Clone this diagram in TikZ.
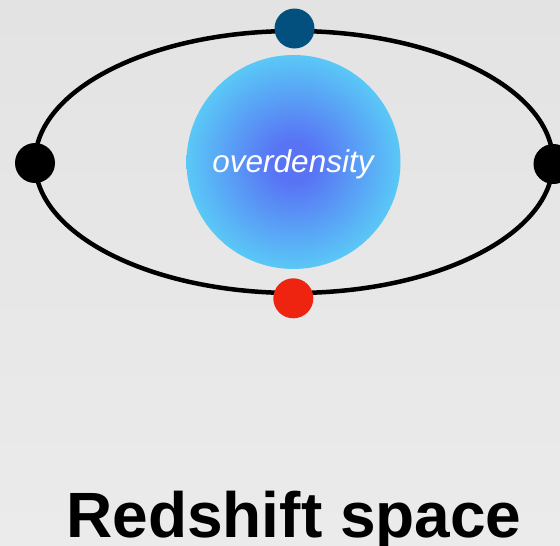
\documentclass[tikz,border=0pt]{standalone}
\usepackage{fontspec}
\setmainfont{Liberation Sans}
\usetikzlibrary{shapes.geometric}
\definecolor{bgtop}{HTML}{E3E3E3}
\definecolor{bgbot}{HTML}{EBEBEB}
\definecolor{dotblue}{HTML}{03507F}
\definecolor{dotred}{HTML}{EE2310}
\definecolor{blobin}{HTML}{5874F5}
\definecolor{blobout}{HTML}{5AC8F6}
\pgfdeclareradialshading{blob}{\pgfpoint{0bp}{0bp}}{color(0bp)=(blobin); color(5bp)=(blobin); color(25bp)=(blobout); color(50bp)=(blobout)}
\tikzset{
  dot/.style={circle, inner sep=0pt, minimum size=40pt},
  orbitstyle/.style={ellipse, draw=black, line width=4.5pt, inner sep=0pt, minimum width=518pt, minimum height=262pt},
  blobstyle/.style={circle, inner sep=0pt, minimum size=214pt, shading=blob},
  labelstyle/.style={anchor=base, inner sep=0pt, text=white, font=\itshape\fontsize{31.5pt}{34pt}\selectfont},
  titlestyle/.style={font=\bfseries\fontsize{64pt}{70pt}\selectfont, text=black, anchor=base, inner sep=0pt}
}
\begin{document}
\begin{tikzpicture}[x=1pt,y=-1pt]
  \useasboundingbox (0,0) rectangle (560,546);
  \clip (0,0) rectangle (560,546);
  \shade[top color=bgtop, bottom color=bgbot] (0,0) rectangle (560,546);
  \node[orbitstyle] (orbit) at (294,162) {};
  \node[blobstyle] (blob) at (293.5,162) {};
  \node[labelstyle] (label) at (293,172.5) {overdensity};
  \node[dot, fill=dotblue] (top) at (294.5,28.5) {};
  \node[dot, fill=dotred] (bottom) at (293.3,298.3) {};
  \node[dot, fill=black] (left) at (35,163) {};
  \node[dot, fill=black] (right) at (553.5,164) {};
  \node[titlestyle] (title) at (294,537) {Redshift space};
\end{tikzpicture}
\end{document}
